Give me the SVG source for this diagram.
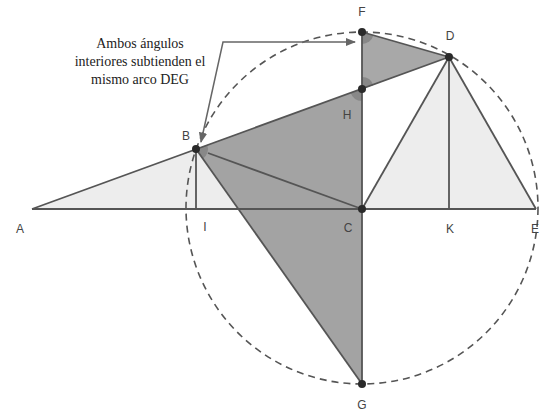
<svg xmlns="http://www.w3.org/2000/svg" width="542" height="413" viewBox="0 0 542 413">
<defs>
<style>
.ln{stroke:#555;stroke-width:1.8;fill:none}
.pt{fill:#2a2a2a}
.lbl{font-family:"Liberation Sans",Arial,sans-serif;font-size:12px;fill:#444;text-anchor:middle}
.note{font-family:"Liberation Serif","Times New Roman",serif;font-size:14px;fill:#222;text-anchor:middle}
.ang{fill:#888}
</style>
<marker id="ah" viewBox="0 0 10 10" refX="9" refY="5" markerWidth="7" markerHeight="7" orient="auto-start-reverse">
<path d="M0,1 L10,5 L0,9 Z" fill="#666"/>
</marker>
</defs>
<rect width="542" height="413" fill="#fff"/>
<g id="fills">
<polygon points="32,209 196,149 362,89 362,209" fill="#ededed"/>
<polygon points="362,209 449,57 536,209" fill="#ededed"/>
<polygon points="196,149 362,89 362,209 362,384" fill="#a3a3a3"/>
<polygon points="362,32 449,57 362,89" fill="#a8a8a8"/>
<path class="ang" d="M362,32 L362,44 A12 12 0 0 0 373.5,35.3 Z"/>
<path class="ang" d="M362,89 L362,77 A12 12 0 0 1 373.3,84.9 Z"/>
<path class="ang" d="M362,89 L350.7,93.1 A12 12 0 0 0 362,101 Z"/>
<path class="ang" d="M196,149 L207.3,144.9 A12 12 0 0 1 202.9,158.8 Z"/>
</g>
<g id="circle">
<circle cx="362" cy="208" r="176" fill="none" stroke="#555" stroke-width="1.6" stroke-dasharray="7 5"/>
</g>
<g id="connectors">
<line class="ln" x1="32" y1="209" x2="536" y2="209"/>
<line class="ln" x1="32" y1="209" x2="449" y2="57"/>
<line class="ln" x1="362" y1="32" x2="362" y2="384"/>
<line class="ln" x1="362" y1="32" x2="449" y2="57"/>
<line class="ln" x1="196" y1="149" x2="196" y2="209"/>
<line class="ln" x1="196" y1="149" x2="362" y2="384"/>
<line class="ln" x1="208" y1="153" x2="362" y2="209"/>
<line class="ln" x1="362" y1="209" x2="449" y2="57"/>
<line class="ln" x1="449" y1="57" x2="536" y2="209"/>
<line class="ln" x1="449" y1="57" x2="449" y2="209"/>
<polyline points="201,142 223,42 355,42" fill="none" stroke="#666" stroke-width="1.5" marker-start="url(#ah)" marker-end="url(#ah)"/>
</g>
<g id="points">
<circle class="pt" cx="362" cy="32" r="4"/>
<circle class="pt" cx="449" cy="57" r="4"/>
<circle class="pt" cx="362" cy="89" r="4"/>
<circle class="pt" cx="196" cy="149" r="4"/>
<circle class="pt" cx="362" cy="209" r="4"/>
<circle class="pt" cx="362" cy="384" r="4"/>
</g>
<g id="labels">
<text class="lbl" x="362" y="16">F</text>
<text class="lbl" x="450" y="40">D</text>
<text class="lbl" x="347" y="119">H</text>
<text class="lbl" x="186" y="140">B</text>
<text class="lbl" x="20" y="233">A</text>
<text class="lbl" x="205" y="231">I</text>
<text class="lbl" x="348" y="232">C</text>
<text class="lbl" x="450" y="233">K</text>
<text class="lbl" x="535" y="233">E</text>
<text class="lbl" x="362" y="409">G</text>
</g>
<g id="note">
<text class="note" x="140" y="48">Ambos ángulos</text>
<text class="note" x="140" y="66">interiores subtienden el</text>
<text class="note" x="140" y="84">mismo arco DEG</text>
</g>
</svg>
